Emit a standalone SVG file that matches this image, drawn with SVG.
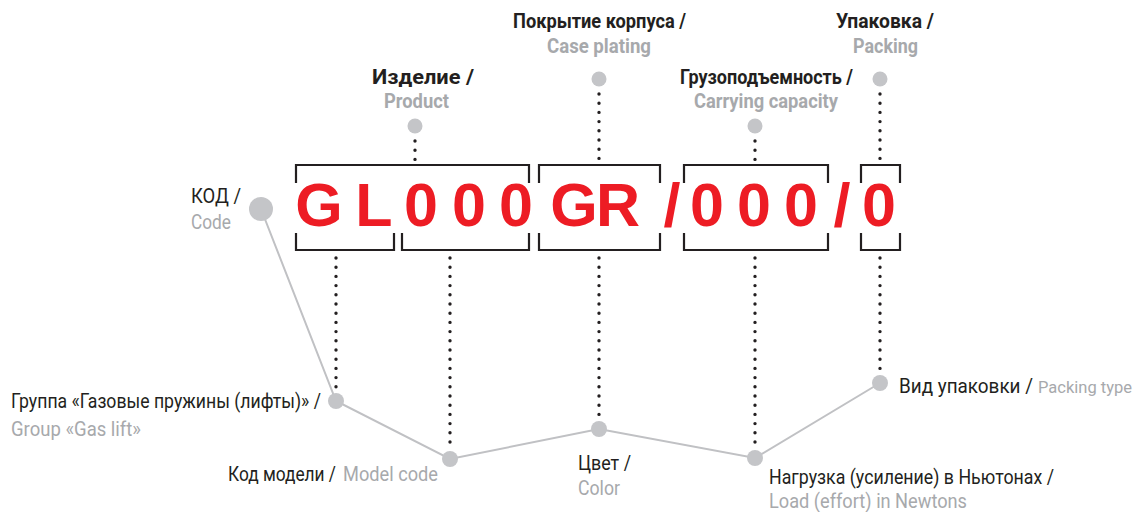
<svg xmlns="http://www.w3.org/2000/svg" width="1139" height="512" viewBox="0 0 1139 512">
<style>
.lbl{font-family:"Roboto","Liberation Sans",sans-serif;font-size:20px;fill:#231f20}
.b{font-weight:bold}
.g{fill:#a7a9ac}
.code{font-family:"Liberation Sans",Arial,sans-serif;font-weight:bold;font-size:61px;fill:#ed1c24;text-anchor:middle}
.br{fill:none;stroke:#231f20;stroke-width:2.2}
.dot{stroke:#231f20;stroke-width:3.4;stroke-linecap:round;stroke-dasharray:0 9.2;fill:none}
.gl{fill:none;stroke:#c0c1c4;stroke-width:2}
.c{fill:#c4c5c8}
</style>
<rect width="1139" height="512" fill="#ffffff"/>
<g id="connectors">
<polyline class="gl" points="261,209 336,401 450,459 599,429 755,458 880,383"/>
<line class="dot" x1="415" y1="141" x2="415" y2="160"/>
<line class="dot" x1="599" y1="94" x2="599" y2="160"/>
<line class="dot" x1="755" y1="141" x2="755" y2="160"/>
<line class="dot" x1="880" y1="94" x2="880" y2="160"/>
<line class="dot" x1="336" y1="258" x2="336" y2="390"/>
<line class="dot" x1="450" y1="258" x2="450" y2="445"/>
<line class="dot" x1="599" y1="258" x2="599" y2="418"/>
<line class="dot" x1="755" y1="258" x2="755" y2="445"/>
<line class="dot" x1="880" y1="258" x2="880" y2="372"/>
</g>
<g id="code-string">
<path class="br" d="M296,183V165H529V183 M539,183V165H660V183 M684,183V165H828V183 M861,183V165H900V183"/>
<path class="br" d="M296,233V250H394V233 M402,233V250H529V233 M539,233V250H660V233 M684,233V250H828V233 M861,233V250H900V233"/>
<text class="code" y="226"><tspan x="319">G</tspan><tspan x="374">L</tspan><tspan x="421">0</tspan><tspan x="469">0</tspan><tspan x="516">0</tspan><tspan x="574">G</tspan><tspan x="618">R</tspan><tspan x="672">/</tspan><tspan x="707">0</tspan><tspan x="754">0</tspan><tspan x="801">0</tspan><tspan x="842">/</tspan><tspan x="879">0</tspan></text>
</g>
<g id="node-code">
<circle class="c" cx="261" cy="209" r="12"/>
<text class="lbl" x="191" y="203" textLength="50" lengthAdjust="spacingAndGlyphs">КОД /</text>
<text class="lbl g" x="191" y="229" textLength="40" lengthAdjust="spacingAndGlyphs">Code</text>
</g>
<g id="node-product">
<circle class="c" cx="415" cy="126" r="7.5"/>
<text class="lbl b" x="372" y="84" textLength="102" lengthAdjust="spacingAndGlyphs">Изделие /</text>
<text class="lbl b g" x="384" y="108" textLength="65" lengthAdjust="spacingAndGlyphs">Product</text>
</g>
<g id="node-case-plating">
<circle class="c" cx="599" cy="79" r="7.5"/>
<text class="lbl b" x="513" y="28" textLength="173" lengthAdjust="spacingAndGlyphs">Покрытие корпуса /</text>
<text class="lbl b g" x="547" y="53" textLength="104" lengthAdjust="spacingAndGlyphs">Case plating</text>
</g>
<g id="node-carrying-capacity">
<circle class="c" cx="755" cy="126" r="7.5"/>
<text class="lbl b" x="680" y="84" textLength="173" lengthAdjust="spacingAndGlyphs">Грузоподъемность /</text>
<text class="lbl b g" x="694" y="108" textLength="144" lengthAdjust="spacingAndGlyphs">Carrying capacity</text>
</g>
<g id="node-packing">
<circle class="c" cx="880" cy="79" r="7.5"/>
<text class="lbl b" x="836" y="28" textLength="98" lengthAdjust="spacingAndGlyphs">Упаковка /</text>
<text class="lbl b g" x="853" y="53" textLength="65" lengthAdjust="spacingAndGlyphs">Packing</text>
</g>
<g id="node-group">
<circle class="c" cx="336" cy="401" r="8"/>
<text class="lbl" x="11" y="408" textLength="310" lengthAdjust="spacingAndGlyphs">Группа «Газовые пружины (лифты)» /</text>
<text class="lbl g" x="11" y="436" textLength="130" lengthAdjust="spacingAndGlyphs">Group «Gas lift»</text>
</g>
<g id="node-model-code">
<circle class="c" cx="450" cy="459" r="8"/>
<text class="lbl" x="228" y="481" textLength="108" lengthAdjust="spacingAndGlyphs">Код модели /</text>
<text class="lbl g" x="343" y="481" textLength="95" lengthAdjust="spacingAndGlyphs">Model code</text>
</g>
<g id="node-color">
<circle class="c" cx="599" cy="429" r="8"/>
<text class="lbl" x="578" y="470" textLength="53" lengthAdjust="spacingAndGlyphs">Цвет /</text>
<text class="lbl g" x="578" y="495" textLength="42" lengthAdjust="spacingAndGlyphs">Color</text>
</g>
<g id="node-load">
<circle class="c" cx="755" cy="458" r="8"/>
<text class="lbl" x="769" y="484" textLength="285" lengthAdjust="spacingAndGlyphs">Нагрузка (усиление) в Ньютонах /</text>
<text class="lbl g" x="769" y="508" textLength="198" lengthAdjust="spacingAndGlyphs">Load (effort) in Newtons</text>
</g>
<g id="node-packing-type">
<circle class="c" cx="880" cy="383" r="8"/>
<text class="lbl" x="899" y="393" textLength="134" lengthAdjust="spacingAndGlyphs">Вид упаковки /</text>
<text class="lbl g" x="1038" y="393" style="font-size:17px" textLength="94" lengthAdjust="spacingAndGlyphs">Packing type</text>
</g>
</svg>
